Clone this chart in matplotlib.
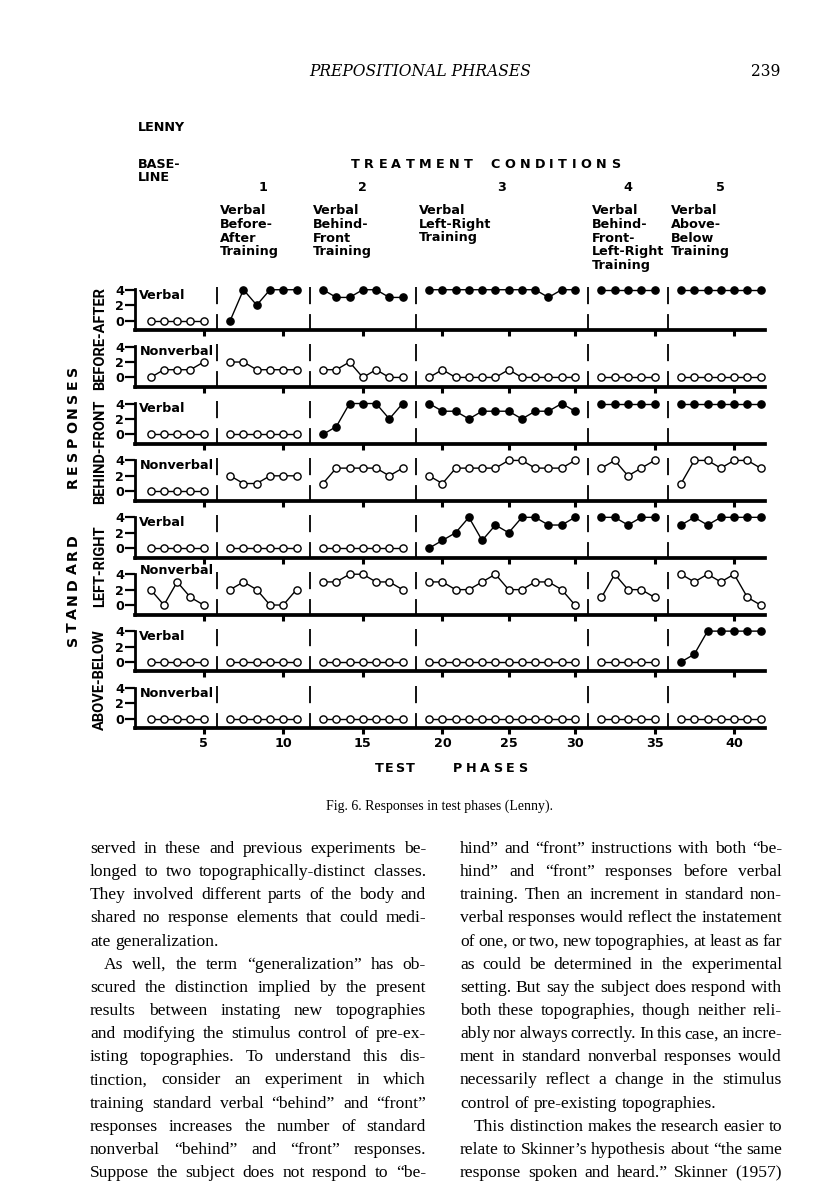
import matplotlib
matplotlib.use("Agg")
import matplotlib.pyplot as plt
from matplotlib.transforms import blended_transform_factory

W, H = 816, 1200
fig = plt.figure(figsize=(W / 100, H / 100), dpi=100)
fig.patch.set_facecolor("white")
renderer = fig.canvas.get_renderer()

# ---------------- data ----------------
group_sizes = [5, 6, 7, 12, 5, 7]          # baseline + treatment conditions 1-5
x_tick_phases = [5, 10, 15, 20, 25, 30, 35, 40]
y_ticks = [0, 2, 4]
condition_numbers = ["1", "2", "3", "4", "5"]
condition_texts = [
    ["Verbal", "Before-", "After", "Training"],
    ["Verbal", "Behind-", "Front", "Training"],
    ["Verbal", "Left-Right", "Training"],
    ["Verbal", "Behind-", "Front-", "Left-Right", "Training"],
    ["Verbal", "Above-", "Below", "Training"],
]
row_titles = ["BEFORE-AFTER", "BEHIND-FRONT", "LEFT-RIGHT", "ABOVE-BELOW"]
panel_kinds = ["Verbal", "Nonverbal", "Verbal", "Nonverbal",
               "Verbal", "Nonverbal", "Verbal", "Nonverbal"]

before_after_verbal = [
    [0, 0, 0, 0, 0],
    [0, 4, 2, 4, 4, 4],
    [4, 3, 3, 4, 4, 3, 3],
    [4, 4, 4, 4, 4, 4, 4, 4, 4, 3, 4, 4],
    [4, 4, 4, 4, 4],
    [4, 4, 4, 4, 4, 4, 4],
]
before_after_nonverbal = [
    [0, 1, 1, 1, 2],
    [2, 2, 1, 1, 1, 1],
    [1, 1, 2, 0, 1, 0, 0],
    [0, 1, 0, 0, 0, 0, 1, 0, 0, 0, 0, 0],
    [0, 0, 0, 0, 0],
    [0, 0, 0, 0, 0, 0, 0],
]
behind_front_verbal = [
    [0, 0, 0, 0, 0],
    [0, 0, 0, 0, 0, 0],
    [0, 1, 4, 4, 4, 2, 4],
    [4, 3, 3, 2, 3, 3, 3, 2, 3, 3, 4, 3],
    [4, 4, 4, 4, 4],
    [4, 4, 4, 4, 4, 4, 4],
]
behind_front_nonverbal = [
    [0, 0, 0, 0, 0],
    [2, 1, 1, 2, 2, 2],
    [1, 3, 3, 3, 3, 2, 3],
    [2, 1, 3, 3, 3, 3, 4, 4, 3, 3, 3, 4],
    [3, 4, 2, 3, 4],
    [1, 4, 4, 3, 4, 4, 3],
]
left_right_verbal = [
    [0, 0, 0, 0, 0],
    [0, 0, 0, 0, 0, 0],
    [0, 0, 0, 0, 0, 0, 0],
    [0, 1, 2, 4, 1, 3, 2, 4, 4, 3, 3, 4],
    [4, 4, 3, 4, 4],
    [3, 4, 3, 4, 4, 4, 4],
]
left_right_nonverbal = [
    [2, 0, 3, 1, 0],
    [2, 3, 2, 0, 0, 2],
    [3, 3, 4, 4, 3, 3, 2],
    [3, 3, 2, 2, 3, 4, 2, 2, 3, 3, 2, 0],
    [1, 4, 2, 2, 1],
    [4, 3, 4, 3, 4, 1, 0],
]
above_below_verbal = [
    [0, 0, 0, 0, 0],
    [0, 0, 0, 0, 0, 0],
    [0, 0, 0, 0, 0, 0, 0],
    [0, 0, 0, 0, 0, 0, 0, 0, 0, 0, 0, 0],
    [0, 0, 0, 0, 0],
    [0, 1, 4, 4, 4, 4, 4],
]
above_below_nonverbal = [
    [0, 0, 0, 0, 0],
    [0, 0, 0, 0, 0, 0],
    [0, 0, 0, 0, 0, 0, 0],
    [0, 0, 0, 0, 0, 0, 0, 0, 0, 0, 0, 0],
    [0, 0, 0, 0, 0],
    [0, 0, 0, 0, 0, 0, 0],
]
panels = [before_after_verbal, before_after_nonverbal,
          behind_front_verbal, behind_front_nonverbal,
          left_right_verbal, left_right_nonverbal,
          above_below_verbal, above_below_nonverbal]
# condition index from which the points are drawn filled (trained responses)
filled_from = [1, None, 2, None, 3, None, 5, None]

left_column = [
    ("served in these and previous experiments be-", 0, True),
    ("longed to two topographically-distinct classes.", 0, True),
    ("They involved different parts of the body and", 0, True),
    ("shared no response elements that could medi-", 0, True),
    ("ate generalization.", 0, False),
    ("As well, the term \u201cgeneralization\u201d has ob-", 1, True),
    ("scured the distinction implied by the present", 0, True),
    ("results between instating new topographies", 0, True),
    ("and modifying the stimulus control of pre-ex-", 0, True),
    ("isting topographies. To understand this dis-", 0, True),
    ("tinction, consider an experiment in which", 0, True),
    ("training standard verbal \u201cbehind\u201d and \u201cfront\u201d", 0, True),
    ("responses increases the number of standard", 0, True),
    ("nonverbal \u201cbehind\u201d and \u201cfront\u201d responses.", 0, True),
    ("Suppose the subject does not respond to \u201cbe-", 0, True),
]
right_column = [
    ("hind\u201d and \u201cfront\u201d instructions with both \u201cbe-", 0, True),
    ("hind\u201d and \u201cfront\u201d responses before verbal", 0, True),
    ("training. Then an increment in standard non-", 0, True),
    ("verbal responses would reflect the instatement", 0, True),
    ("of one, or two, new topographies, at least as far", 0, True),
    ("as could be determined in the experimental", 0, True),
    ("setting. But say the subject does respond with", 0, True),
    ("both these topographies, though neither reli-", 0, True),
    ("ably nor always correctly. In this case, an incre-", 0, True),
    ("ment in standard nonverbal responses would", 0, True),
    ("necessarily reflect a change in the stimulus", 0, True),
    ("control of pre-existing topographies.", 0, False),
    ("This distinction makes the research easier to", 1, True),
    ("relate to Skinner\u2019s hypothesis about \u201cthe same", 0, True),
    ("response spoken and heard.\u201d Skinner (1957)", 0, True),
]


# ---------------- helpers ----------------
def ftext(xpx, ypx, s, **kw):
    return fig.text(xpx / W, 1 - ypx / H, s, **kw)


def ink_width(s, **kw):
    t = fig.text(0, 0, s, **kw)
    w = t.get_window_extent(renderer=renderer).width
    t.remove()
    return w


def spaced_h(x0, x1, ybase, s, word_gap=3.0, **kw):
    words = s.split()
    ws = [[ink_width(c, **kw) for c in w] for w in words]
    ink = sum(sum(a) for a in ws)
    n_l = sum(len(w) - 1 for w in words)
    n_w = len(words) - 1
    g = (x1 - x0 - ink) / (n_l + word_gap * n_w)
    x = x0
    for wi, w in enumerate(words):
        for ci, c in enumerate(w):
            ftext(x, ybase, c, ha="left", va="baseline", **kw)
            x += ws[wi][ci] + g
        x += g * (word_gap - 1)


def spaced_v(xbase, y_bottom, y_top, s, word_gap=3.0, **kw):
    words = s.split()
    ws = [[ink_width(c, **kw) for c in w] for w in words]
    ink = sum(sum(a) for a in ws)
    n_l = sum(len(w) - 1 for w in words)
    n_w = len(words) - 1
    g = (y_bottom - y_top - ink) / (n_l + word_gap * n_w)
    y = y_bottom
    for wi, w in enumerate(words):
        for ci, c in enumerate(w):
            ftext(xbase, y, c, ha="left", va="baseline", rotation=90,
                  rotation_mode="anchor", **kw)
            y -= ws[wi][ci] + g
        y -= g * (word_gap - 1)


# ---------------- panels ----------------
slots = []
for g, n in enumerate(group_sizes):
    start = sum(group_sizes[:g]) + g + 1
    slots.append([start + k for k in range(n)])
phase_slot = [s for grp in slots for s in grp]
separators = [slots[g][-1] + 1 for g in range(len(group_sizes) - 1)]

XL, XR = -0.18, 47.33
YLO, YHI = -1.23, 4.4
UPP = 7.7
AX_L, AX_R = 135, 765
PITCH = 56.9
SPINE0 = 330

bold9 = dict(fontweight="bold", fontsize=9.2, family="DejaVu Sans")
axes = []
for i, series in enumerate(panels):
    spine = SPINE0 + i * PITCH
    hpx = (YHI - YLO) * UPP
    ax = fig.add_axes([AX_L / W, 1 - spine / H, (AX_R - AX_L) / W, hpx / H])
    axes.append(ax)
    ax.set_xlim(XL, XR)
    ax.set_ylim(YLO, YHI)
    ax.patch.set_visible(False)
    for sp in ("top", "right"):
        ax.spines[sp].set_visible(False)
    ax.spines["bottom"].set_linewidth(2.7)
    ax.spines["left"].set_linewidth(2.0)
    ax.spines["left"].set_bounds(YLO, 4.05)
    ax.set_yticks(y_ticks)
    ax.set_yticklabels([str(v) for v in y_ticks], **bold9)
    ax.tick_params(axis="y", direction="out", length=7, width=1.6, pad=1)
    ax.set_xticks([phase_slot[p - 1] for p in x_tick_phases])
    ax.tick_params(axis="x", direction="out", length=4.5, width=2.2, pad=1.5)
    if i == len(panels) - 1:
        ax.set_xticklabels([str(p) for p in x_tick_phases], **bold9)
    else:
        ax.set_xticklabels([])
    for sx in separators:
        ax.plot([sx, sx], [YHI - 0.1, YLO], color="black", lw=1.3,
                dashes=(9.5, 5.5, 40, 5), dash_capstyle="butt", zorder=2)
    for g in range(len(group_sizes)):
        filled = filled_from[i] is not None and g >= filled_from[i]
        ax.plot(slots[g], series[g], "-o", color="black", lw=1.0, ms=5.2,
                mew=1.0, mfc="black" if filled else "white", mec="black",
                clip_on=False, zorder=3)
    if i == 5:
        ax.text(0.15, 5.3, panel_kinds[i], va="top", ha="left",
                clip_on=False, **bold9)
    else:
        ax.text(0.15, 4.15, panel_kinds[i], va="top", ha="left", **bold9)

# row titles
for r, title in enumerate(row_titles):
    top = SPINE0 + 2 * r * PITCH - 9.5 - 4 * UPP
    bot = SPINE0 + (2 * r + 1) * PITCH
    ftext(100, (top + bot) / 2, title, rotation=90, ha="center", va="center",
          fontweight="bold", fontsize=10.5, family=["Roboto", "DejaVu Sans"])

vkw = dict(fontweight="bold", fontsize=10.2, family="DejaVu Sans")
spaced_v(77, 646, 534, "STANDARD", **vkw)
spaced_v(77, 488, 366, "RESPONSES", **vkw)

# ---------------- header ----------------
ax0 = axes[0]
tr = blended_transform_factory(ax0.transData, fig.transFigure)
ftext(138, 131, "LENNY", ha="left", va="baseline", **bold9)
ftext(138, 167.5, "BASE-", ha="left", va="baseline", **bold9)
ftext(138, 181, "LINE", ha="left", va="baseline", **bold9)
spaced_h(351, 620, 167.5, "TREATMENT CONDITIONS", word_gap=4.0, **bold9)
for g, num in enumerate(condition_numbers):
    xc = (slots[g + 1][0] + slots[g + 1][-1]) / 2
    fig.text(xc, 1 - 191 / H, num, transform=tr, ha="center", va="baseline",
             **bold9)
    for k, line in enumerate(condition_texts[g]):
        fig.text(separators[g] + 0.25, 1 - (214.5 + k * 13.5) / H, line,
                 transform=tr, ha="left", va="baseline", **bold9)

spaced_h(375, 415, 772, "TEST", **bold9)
spaced_h(453, 527, 772, "PHASES", **bold9)

# page header
ftext(420, 76.5, "PREPOSITIONAL PHRASES", ha="center", va="baseline",
      family="DejaVu Serif", style="italic", fontsize=11.2)
ftext(780, 76.5, "239", ha="right", va="baseline", family="DejaVu Serif",
      fontsize=11.2)

# caption
ftext(440, 810, "Fig. 6. Responses in test phases (Lenny).", ha="center",
      va="baseline", family="Liberation Serif", fontsize=10)


# ---------------- body text ----------------
def set_column(lines, x0, x1, y0, step, fs0, min_gap=2.6, indent_px=14):
    space = 0.27 * fs0 * 100 / 72
    for k, (line, ind, just) in enumerate(lines):
        words = line.split()
        xs = x0 + ind * indent_px
        avail = x1 - xs
        fs = fs0
        while True:
            kw = dict(family="Liberation Serif", fontsize=fs)
            widths = [ink_width(w, **kw) for w in words]
            if not just or sum(widths) + min_gap * (len(words) - 1) <= avail:
                break
            fs -= 0.2
        if just and len(words) > 1:
            gap = (avail - sum(widths)) / (len(words) - 1)
        else:
            gap = space
        x = xs
        y = y0 + k * step
        for w, wd in zip(words, widths):
            ftext(x, y, w, ha="left", va="baseline", **kw)
            x += wd + gap


set_column(left_column, 90, 426, 853, 23.15, 12.6)
set_column(right_column, 460, 782, 853, 23.15, 12.6)

fig.savefig("out.png", dpi=100, facecolor="white")
